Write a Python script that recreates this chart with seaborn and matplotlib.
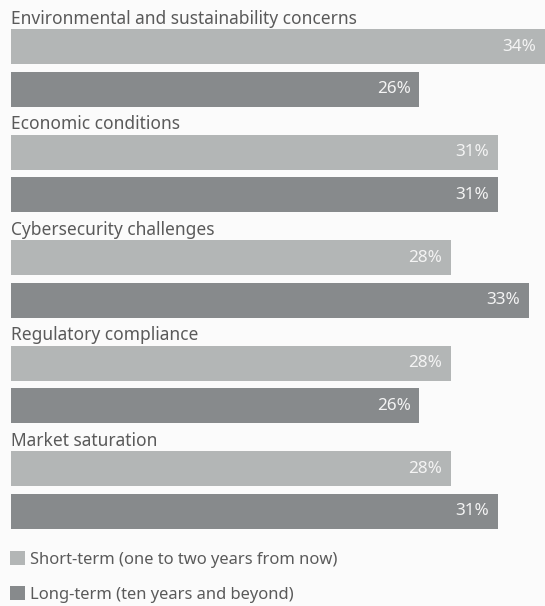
import matplotlib
matplotlib.use("Agg")
import matplotlib.pyplot as plt
import seaborn as sns
import pandas as pd

categories = ["Environmental and sustainability concerns", "Economic conditions",
              "Cybersecurity challenges", "Regulatory compliance", "Market saturation"]
short_term = [34, 31, 28, 28, 28]
long_term = [26, 31, 33, 26, 31]
series_names = ["Short-term (one to two years from now)", "Long-term (ten years and beyond)"]
colors = ["#b3b6b6", "#878a8c"]

rows = []
for c, s, l in zip(categories, short_term, long_term):
    rows.append({"Category": c, "Value": s, "Horizon": series_names[0]})
    rows.append({"Category": c, "Value": l, "Horizon": series_names[1]})
df = pd.DataFrame(rows)

sns.set_theme(style="white")
plt.rcParams["font.family"] = ["Noto Sans", "DejaVu Sans"]
bg = "#fbfbfb"
text_color = "#5a5a5a"

fig = plt.figure(figsize=(5.45, 6.06), dpi=100, facecolor=bg)
ax = fig.add_axes([0, 0, 1, 1])
ax.set_facecolor(bg)

sns.barplot(data=df, y="Category", x="Value", hue="Horizon", orient="h",
            palette=colors, width=0.8, gap=0.17, ax=ax, saturation=1,
            order=categories, hue_order=series_names, linewidth=0)

px_per_unit = 105.5
top = -68 / px_per_unit
bottom = top + 606 / px_per_unit
ax.set_ylim(bottom, top)
x_scale = 15.7
ax.set_xlim(-11 / x_scale, (545 - 11) / x_scale)

for p in ax.patches:
    w = p.get_width()
    if w <= 0:
        continue
    ax.text(w - 0.55, p.get_y() + p.get_height() / 2, f"{w:.0f}%",
            ha="right", va="center", color="#f4f4f4", fontsize=12.3)

for i, c in enumerate(categories):
    ax.text(0, i - 0.468, c, ha="left", va="center", color=text_color, fontsize=12.5)

handles, labels = ax.get_legend_handles_labels()
leg = ax.legend(handles, labels, loc="upper left", bbox_to_anchor=(0.018, 0.09),
                bbox_transform=fig.transFigure, frameon=False, fontsize=11.9,
                handlelength=0.9, handleheight=0.9, handletextpad=0.3,
                labelspacing=1.1, borderpad=0, borderaxespad=0)
for t in leg.get_texts():
    t.set_color(text_color)

ax.set_axis_off()
fig.savefig("out.png", dpi=100, facecolor=bg)
